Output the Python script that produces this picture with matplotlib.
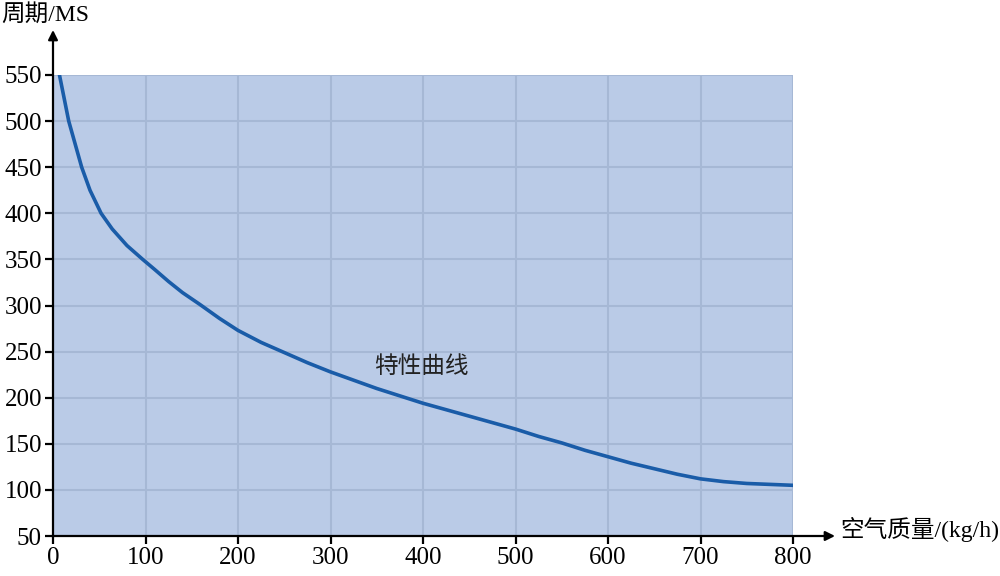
import matplotlib
matplotlib.use("Agg")
import matplotlib.pyplot as plt

# values
air_mass = [7, 12, 17, 24, 31, 40, 52, 64, 80, 97, 110, 125, 140, 159, 180,
            200, 225, 250, 275, 300, 325, 350, 375, 400, 425, 450, 475, 500,
            525, 550, 575, 600, 625, 650, 675, 700, 725, 750, 775, 800]
period = [550, 525, 500, 475, 450, 425, 400, 383, 365, 350, 339, 326, 314, 301, 286,
          273, 260, 249, 238, 228, 219, 210, 202, 194, 187, 180, 173, 166,
          158, 151, 143, 136, 129, 123, 117, 112, 109, 107, 106, 105]

x_ticks = [0, 100, 200, 300, 400, 500, 600, 700, 800]
y_ticks = [50, 100, 150, 200, 250, 300, 350, 400, 450, 500, 550]

fonts = ['Liberation Serif', 'Noto Sans CJK SC', 'DejaVu Sans']
plt.rcParams['font.family'] = fonts

fig = plt.figure(figsize=(10, 5.76), dpi=100)
ax = fig.add_axes([0.053, 0.0694, 0.740, 0.8004])

ax.set_facecolor('#bacbe7')
ax.plot(air_mass, period, color='#1a5ca8', lw=2.6, solid_capstyle='round',
        solid_joinstyle='round')

ax.set_xlim(0, 800)
ax.set_ylim(50, 550)
ax.set_xticks(x_ticks)
ax.set_yticks(y_ticks)
ax.tick_params(direction='out', length=6, width=1.6, labelsize=18, pad=2)
ax.grid(True, color='#a6b8d5', lw=1.5)
ax.set_axisbelow(True)

for s in ['top', 'right', 'left', 'bottom']:
    ax.spines[s].set_visible(False)

# axis lines with arrows (figure coords)
ax.annotate('', xy=(0.053, 1 - 30 / 576), xytext=(0.053, 1 - 537 / 576),
            xycoords='figure fraction',
            arrowprops=dict(arrowstyle='-|>', color='black', lw=1.6,
                            mutation_scale=14, shrinkA=0, shrinkB=0))
ax.annotate('', xy=(0.835, 1 - 536 / 576), xytext=(0.052, 1 - 536 / 576),
            xycoords='figure fraction',
            arrowprops=dict(arrowstyle='-|>', color='black', lw=1.6,
                            mutation_scale=14, shrinkA=0, shrinkB=0))

fig.text(0.001, 1 - 15 / 576, '周期/MS', fontsize=17, va='center', ha='left',
         family=fonts)
fig.text(0.999, 1 - 529 / 576, '空气质量/(kg/h)', fontsize=17, va='center',
         ha='right', family=fonts)
ax.text(398, 233, '特性曲线', fontsize=17, ha='center', va='center',
        color='#222222', family=fonts)

fig.savefig('out.png', dpi=100)
